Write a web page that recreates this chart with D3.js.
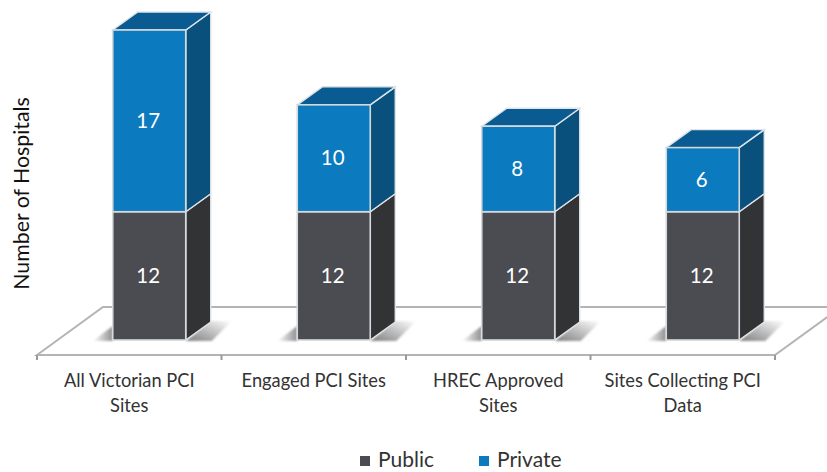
<!DOCTYPE html>
<html><head><meta charset="utf-8">
<script src="https://cdn.jsdelivr.net/npm/d3@7"></script>
<style>html,body{margin:0;background:#fff}svg{display:block;font-family:Lato,sans-serif}</style>
</head><body><svg id="c" width="827" height="472"></svg>
<script>
const categories=[["All Victorian PCI","Sites"],["Engaged PCI Sites"],["HREC Approved","Sites"],["Sites Collecting PCI","Data"]];
const publicValues=[12,12,12,12];
const privateValues=[17,10,8,6];
const seriesNames=["Public","Private"];
const colors={Public:{front:"#4b4c51",side:"#323335",top:"#3a3b3e"},Private:{front:"#0c7abf",side:"#0a507c",top:"#0a5b91"}};
const svg=d3.select("#c");
const x=d3.scaleBand().domain(d3.range(categories.length)).range([37,775]);
const y=d3.scaleLinear().domain([0,29]).range([340,30]);
const dx=25,dy=-18,barW=73,offset=20;
const defs=svg.append("defs");
const g1=defs.append("linearGradient").attr("id","shL").attr("x1",0).attr("x2",1).attr("y1",0).attr("y2",0);
g1.append("stop").attr("offset",0).attr("stop-color","#fff");g1.append("stop").attr("offset",1).attr("stop-color","#8f8f8f");
const g2=defs.append("linearGradient").attr("id","shR").attr("x1",0).attr("x2",1).attr("y1",1).attr("y2",0);
g2.append("stop").attr("offset",0).attr("stop-color","#7f7f7f");g2.append("stop").attr("offset",1).attr("stop-color","#fff");
const f=defs.append("filter").attr("id","soft").attr("x","-20%").attr("y","-20%").attr("width","140%").attr("height","140%");
f.append("feGaussianBlur").attr("stdDeviation",1.2);
// floor
const fy0=355,fy1=307,fdx=66;
const floor=svg.append("g").attr("fill","none").attr("stroke","#a6a6a6").attr("stroke-width",2);
floor.append("path").attr("d",`M${x.range()[0]},${fy0}L${x.range()[0]+fdx},${fy1}H${x.range()[1]+fdx}L${x.range()[1]},${fy0}Z`).attr("stroke","#b4b4b4");
floor.selectAll("line").data(d3.range(categories.length+1)).join("line")
 .attr("x1",i=>37+i*x.bandwidth()).attr("x2",i=>37+i*x.bandwidth()).attr("y1",fy0).attr("y2",fy0+5).attr("stroke","#999");
// bars
const bars=svg.selectAll("g.bar").data(categories.map((c,i)=>i)).join("g").attr("class","bar");
bars.each(function(i){
 const g=d3.select(this);
 const L=x(i)+x.bandwidth()/2+offset-barW/2,R=L+barW;
 // floor shadows
 const base=y(0);
 g.append("path").attr("d",`M${L-20},${base+1}L${L},${base-14}V${base+1}Z`).attr("fill","url(#shL)").attr("filter","url(#soft)");
 g.append("path").attr("d",`M${R},${base+1}L${R+dx},${base+dy-1}H${R+dx+21}L${R+26},${base+1}Z`).attr("fill","url(#shR)").attr("filter","url(#soft)");
 const segs=[["Public",0,publicValues[i]],["Private",publicValues[i],publicValues[i]+privateValues[i]]];
 segs.forEach(([n,a,b])=>{
  const yb=y(a),yt=y(b),col=colors[n];
  g.append("path").attr("d",`M${R},${yb}L${R+dx},${yb+dy}V${yt+dy}L${R},${yt}Z`).attr("fill",col.side).attr("stroke","#dfe5ea").attr("stroke-width",1.4);
  if(n==="Private")g.append("path").attr("d",`M${L},${yt}L${L+dx},${yt+dy}H${R+dx}L${R},${yt}Z`).attr("fill",col.top).attr("stroke","#dfe5ea").attr("stroke-width",1.4);
  g.append("rect").attr("x",L).attr("y",yt).attr("width",barW).attr("height",yb-yt).attr("fill",col.front).attr("stroke","#d5d9dc").attr("stroke-width",1.6);
  g.append("text").attr("x",(L+R)/2-1).attr("y",(yb+yt)/2+7).attr("text-anchor","middle").attr("fill","#fff").attr("font-size",20.5).text(b-a);
 });
});
// category labels
svg.selectAll("text.cat").data(categories).join("text").attr("class","cat").attr("text-anchor","middle")
 .attr("fill","#333").attr("font-size",18.3)
 .each(function(c,i){d3.select(this).selectAll("tspan").data(c).join("tspan").attr("x",x(i)+x.bandwidth()/2).attr("y",(d,j)=>387+j*25).text(d=>d);});
svg.append("text").attr("transform","translate(29,193.5) rotate(-90)").attr("text-anchor","middle").attr("fill","#111").attr("font-size",21.3).text("Number of Hospitals");
// legend
const lx=[360,479];
const leg=svg.selectAll("g.leg").data(seriesNames).join("g").attr("class","leg");
leg.append("rect").attr("x",(d,i)=>lx[i]).attr("y",456).attr("width",10).attr("height",10).attr("fill",d=>colors[d].front);
leg.append("text").attr("x",(d,i)=>lx[i]+18).attr("y",467).attr("font-size",21).attr("fill","#333").text(d=>d);
</script></body></html>
